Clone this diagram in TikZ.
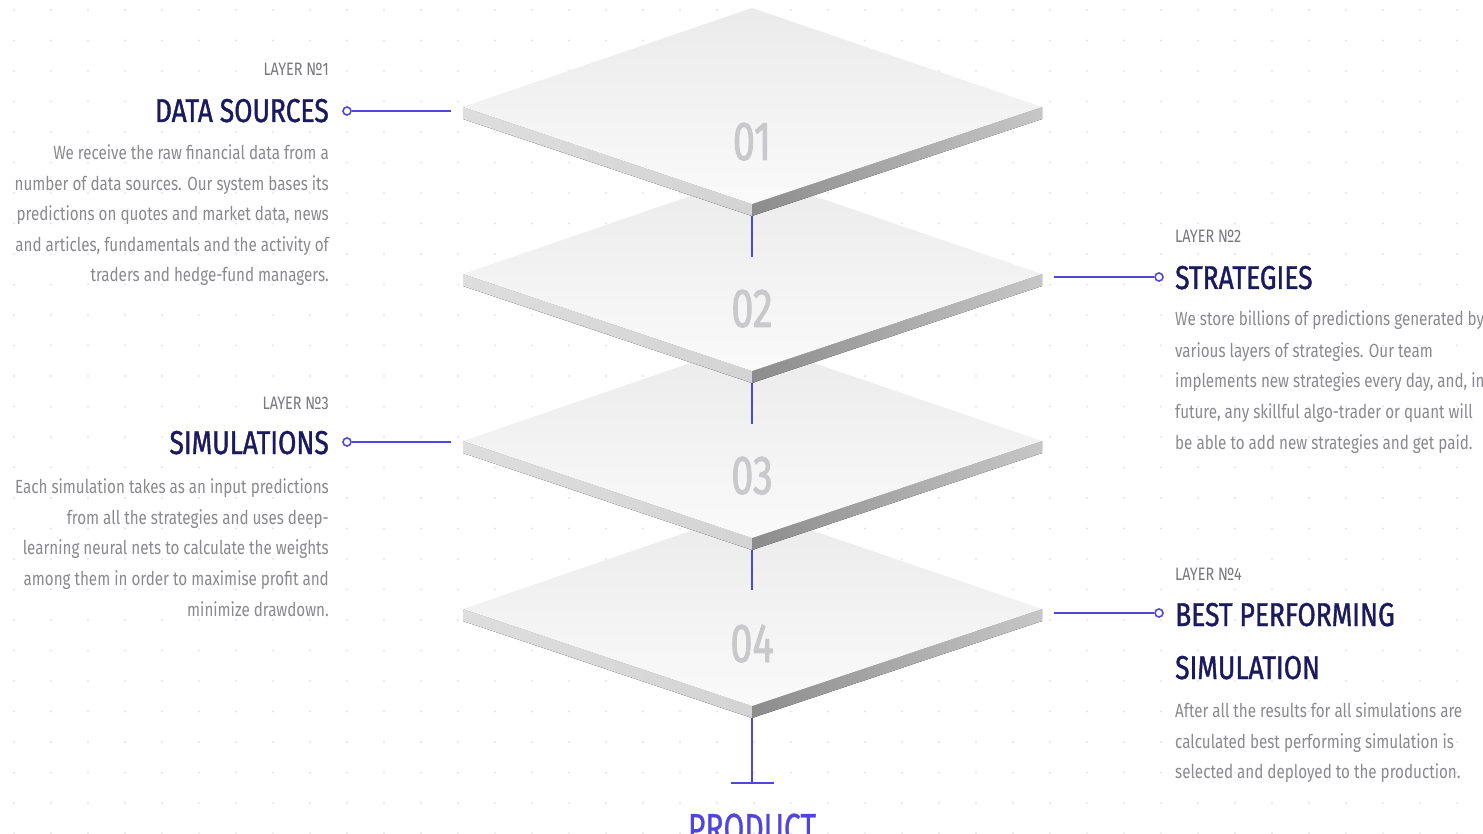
\documentclass[tikz,border=0pt]{standalone}
\usepackage{fontspec}
\setmainfont{Fira Sans}[FakeStretch=0.8]
\newfontfamily\headfont{Fira Sans}[FakeStretch=0.8, FakeBold=1.2]
\newfontfamily\numfont{Fira Sans}[FakeStretch=0.72, FakeBold=1.5]
\newfontfamily\prodfont{Fira Sans}[FakeStretch=0.72, FakeBold=0.6]
\usetikzlibrary{calc}
\definecolor{dotc}{HTML}{E4E4E8}
\definecolor{linkc}{HTML}{5046DC}
\definecolor{headc}{HTML}{1B1A5C}
\definecolor{bodyc}{HTML}{8A8A8E}
\definecolor{layc}{HTML}{77777C}
\definecolor{numc}{HTML}{C9C9CB}
\tikzset{
  layerlbl/.style={font=\fontsize{18}{20}\selectfont, text=layc, inner sep=0pt},
  headlbl/.style={font=\headfont\fontsize{33}{36}\selectfont, text=headc, inner sep=0pt},
  bodylbl/.style={font=\fontsize{19}{22}\selectfont, text=bodyc, inner sep=0pt},
  numlbl/.style={font=\numfont\fontsize{55}{60}\selectfont, text=numc, inner sep=0pt, anchor=base},
  link/.style={draw=linkc, line width=2pt},
  ring/.style={draw=linkc, line width=1.6pt, fill=white, circle, minimum size=8pt, inner sep=0pt},
}
\newcommand\myplate[3]{% #1 name, #2 y of side vertices, #3 label
  \fill[left color=black!13, right color=black!17] (463,#2) -- (752,#2+97) -- (752,#2+109) -- (463,#2+12) -- cycle;
  \fill[left color=black!45, right color=black!22] (752,#2+97) -- (1042,#2) -- (1042,#2+12) -- (752,#2+109) -- cycle;
  \shade[top color=black!8, bottom color=black!2] (752,#2-99) -- (1042,#2) -- (752,#2+97) -- (463,#2) -- cycle;
  \node[numlbl] (#1) at (752,#2+53) {#3};
  \coordinate (#1b) at (752,#2+109);
}
\begin{document}
\begin{tikzpicture}[x=1pt,y=-1pt]
\useasboundingbox (0,0) rectangle (1483,834);
\fill[white] (0,0) rectangle (1483,834);
\foreach \i in {0,...,40} \foreach \j in {0,...,28}
  \fill[dotc] (14+37*\i, 10+30.5*\j) circle (1.1);
% plates, bottom to top
\myplate{p4}{609}{04}
\myplate{p3}{441}{03}
\myplate{p2}{274}{02}
\myplate{p1}{107}{01}
% vertical links
\coordinate (v1) at (752,257);
\coordinate (v2) at (752,424);
\coordinate (v3) at (752,590);
\coordinate (v4) at (752,783);
\coordinate (t1) at (731,783);
\coordinate (t2) at (774,783);
\draw[link] (p1b) -- (v1);
\draw[link] (p2b) -- (v2);
\draw[link] (p3b) -- (v3);
\draw[link] (p4b) -- (v4);
\draw[link] (t1) -- (t2);
\node[font=\prodfont\fontsize{42}{44}\selectfont, text=linkc, inner sep=0pt, anchor=base] (prod) at (752,843) {PRODUCT};
% left block 1
\node[layerlbl, anchor=base east] (lay1) at (329,76) {LAYER №1};
\node[headlbl, anchor=base east] (h1) at (329,122) {DATA SOURCES};
\node[ring] (r1) at (347,111) {};
\coordinate (e1) at (451,111);
\draw[link] (r1) -- (e1);
\node[bodylbl, anchor=base east] (b1a) at (329,160) {We receive the raw financial data from a};
\node[bodylbl, anchor=base east] (b1b) at (329,191) {number of data sources. Our system bases its};
\node[bodylbl, anchor=base east] (b1c) at (329,221) {predictions on quotes and market data, news};
\node[bodylbl, anchor=base east] (b1d) at (329,252) {and articles, fundamentals and the activity of};
\node[bodylbl, anchor=base east] (b1e) at (329,282) {traders and hedge-fund managers.};
% right block 2
\node[layerlbl, anchor=base west] (lay2) at (1175,243) {LAYER №2};
\node[headlbl, anchor=base west] (h2) at (1175,289) {STRATEGIES};
\node[ring] (r2) at (1159,277) {};
\coordinate (e2) at (1054,277);
\draw[link] (e2) -- (r2);
\node[bodylbl, anchor=base west] (b2a) at (1175,326) {We store billions of predictions generated by};
\node[bodylbl, anchor=base west] (b2b) at (1175,357) {various layers of strategies. Our team};
\node[bodylbl, anchor=base west] (b2c) at (1175,387) {implements new strategies every day, and, in};
\node[bodylbl, anchor=base west] (b2d) at (1175,418) {future, any skillful algo-trader or quant will};
\node[bodylbl, anchor=base west] (b2e) at (1175,449) {be able to add new strategies and get paid.};
% left block 3
\node[layerlbl, anchor=base east] (lay3) at (329,409) {LAYER №3};
\node[headlbl, anchor=base east] (h3) at (329,454) {SIMULATIONS};
\node[ring] (r3) at (347,442) {};
\coordinate (e3) at (451,442);
\draw[link] (r3) -- (e3);
\node[bodylbl, anchor=base east] (b3a) at (329,493) {Each simulation takes as an input predictions};
\node[bodylbl, anchor=base east] (b3b) at (329,524) {from all the strategies and uses deep-};
\node[bodylbl, anchor=base east] (b3c) at (329,554) {learning neural nets to calculate the weights};
\node[bodylbl, anchor=base east] (b3d) at (329,585) {among them in order to maximise profit and};
\node[bodylbl, anchor=base east] (b3e) at (329,616) {minimize drawdown.};
% right block 4
\node[layerlbl, anchor=base west] (lay4) at (1175,580) {LAYER №4};
\node[headlbl, anchor=base west] (h4a) at (1175,626) {BEST PERFORMING};
\node[headlbl, anchor=base west] (h4b) at (1175,679) {SIMULATION};
\node[ring] (r4) at (1159,613) {};
\coordinate (e4) at (1054,613);
\draw[link] (e4) -- (r4);
\node[bodylbl, anchor=base west] (b4a) at (1175,717) {After all the results for all simulations are};
\node[bodylbl, anchor=base west] (b4b) at (1175,748) {calculated best performing simulation is};
\node[bodylbl, anchor=base west] (b4c) at (1175,778) {selected and deployed to the production.};
\end{tikzpicture}
\end{document}
